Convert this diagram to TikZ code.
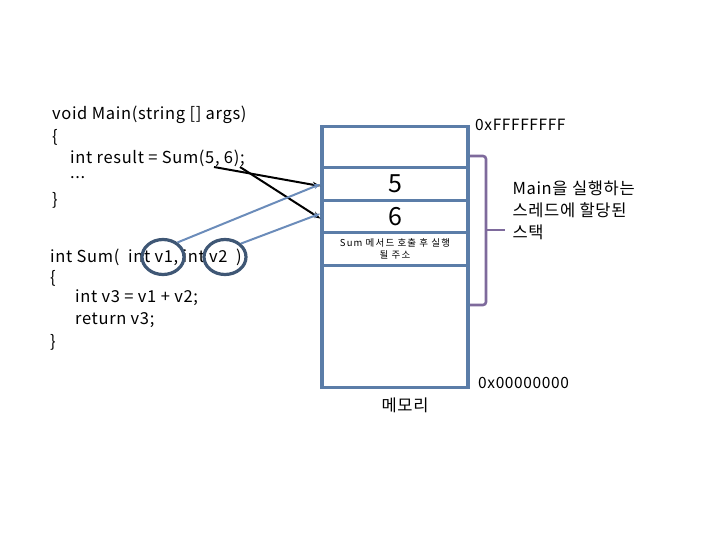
\documentclass[tikz,border=0pt]{standalone}
\usepackage{fontspec}
\setmainfont{Noto Sans CJK KR}[LetterSpace=4]
\usepackage{tikz}
\usetikzlibrary{positioning, arrows, arrows.meta, shapes.geometric}

\definecolor{boxblue}{HTML}{5B7DA8}
\definecolor{arrowblue}{HTML}{6B8CBA}
\definecolor{ringblue}{HTML}{3F5775}
\definecolor{bracepurple}{HTML}{7E6A9C}

\tikzset{
  code/.style={anchor=west, inner sep=0pt, font=\fontsize{16.5}{16.5}\selectfont},
  cell/.style={draw=boxblue, line width=3.2pt, minimum width=146pt, inner sep=0pt, anchor=north},
  ring/.style={draw=ringblue, line width=3.2pt, ellipse, minimum width=42pt, minimum height=35pt, inner sep=0pt},
  addr/.style={anchor=west, inner sep=0pt, font=\fontsize{15.5}{15.5}\selectfont},
}

\begin{document}
\begin{tikzpicture}[x=1pt, y=-1pt]
\useasboundingbox (0,0) rectangle (720,540);

% code of Main
\node[code] (m1) at (52,115) {void Main(string [] args)};
\node[code] (m2) at (52,137) {\{};
\node[code] (m3) at (70,158) {int result = Sum(5, 6);};
\node[code] (m4) at (70,178) {...};
\node[code] (m5) at (52,200) {\}};

% code of Sum
\node[code] (s1) at (50,257) {int Sum(\ \ int v1, int v2\ \ )};
\node[code] (s2) at (50,278) {\{};
\node[code] (s3) at (75,298) {int v3 = v1 + v2;};
\node[code] (s4) at (75,320) {return v3;};
\node[code] (s5) at (50,342) {\}};

\node[ring] (v1ring) at (163,257) {};
\node[ring] (v2ring) at (225,257) {};

\coordinate (arg5) at (214,167);
\coordinate (arg6) at (240,167);

% stack cells
\node[cell, minimum height=41pt] (top) at (395,125) {};
\node[cell, minimum height=33pt, font=\fontsize{25}{25}\selectfont] (cell5) at (395,166) {5};
\node[cell, minimum height=32pt, font=\fontsize{25}{25}\selectfont] (cell6) at (395,199) {6};
\node[cell, minimum height=33pt, align=center, font=\fontsize{9.5}{12}\selectfont\addfontfeatures{LetterSpace=12}] (ret) at (395,231) {Sum 메서드 호출 후 실행\\될 주소};
\node[cell, minimum height=122pt] (rest) at (395,264) {};

\node[addr] (hi) at (475,125) {0xFFFFFFFF};
\node[addr] (lo) at (478,383) {0x00000000};
\node[font=\fontsize{16.5}{16.5}\selectfont] (mem) at (405,405) {메모리};

% brace
\draw[bracepurple, line width=2.6pt, rounded corners=3pt]
  (470,156) -- (486,156) -- (486,305) -- (470,305);
\draw[bracepurple, line width=2.6pt] (486,230) -- (505,230);
\node[anchor=west, align=left, font=\fontsize{16.5}{22}\selectfont] (stk) at (509,210)
  {Main을 실행하는\\스레드에 할당된\\스택};

% arrows
\draw[-{Stealth[length=8pt]}, line width=2pt] (arg5) -- ([yshift=-2pt]cell5.west);
\draw[-{Stealth[length=8pt]}, line width=2pt] (arg6) -- ([yshift=-2pt]cell6.west);
\draw[-{Stealth[length=7pt]}, arrowblue, line width=2pt] (v1ring.45) -- ([yshift=0pt]cell5.west);
\draw[-{Stealth[length=7pt]}, arrowblue, line width=2pt] (v2ring.40) -- ([yshift=3pt]cell6.west);
\end{tikzpicture}
\end{document}
